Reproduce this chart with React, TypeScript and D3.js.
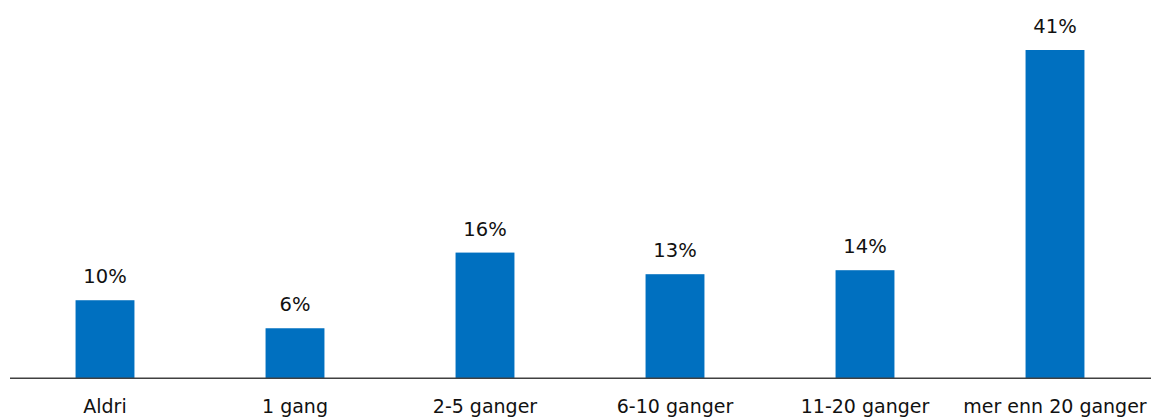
import React from "react";
import * as d3 from "d3";

const categories = ["Aldri", "1 gang", "2-5 ganger", "6-10 ganger", "11-20 ganger", "mer enn 20 ganger"];
const values = [9.75, 6.25, 15.7, 13.0, 13.5, 41.0];

const W = 1151;
const H = 418;
const baseline = 378.3;

export default function App() {
  const x = d3.scaleBand<string>().domain(categories).range([10, 1150]).paddingInner(0.69).paddingOuter(0.345);
  const y = d3.scaleLinear().domain([0, 41]).range([baseline, 50]);
  const font = "'DejaVu Sans', sans-serif";
  return (
    <svg width={W} height={H} style={{ position: "absolute", left: 0, top: 0, background: "#fff" }}>
      {values.map((v, i) => {
        const c = categories[i];
        const bx = x(c)!;
        return (
          <g key={c}>
            <rect x={bx} y={y(v)} width={x.bandwidth()} height={baseline - y(v)} fill="#0070C0" />
            <text x={bx + x.bandwidth() / 2} y={y(v) - 17} textAnchor="middle" fontFamily={font} fontSize={19.5} fill="#111">
              {Math.round(v)}%
            </text>
            <text x={bx + x.bandwidth() / 2} y={413} textAnchor="middle" fontFamily={font} fontSize={19} fill="#111">
              {c}
            </text>
          </g>
        );
      })}
      <line x1={10} x2={1151} y1={baseline} y2={baseline} stroke="#404040" strokeWidth={1.5} />
    </svg>
  );
}
